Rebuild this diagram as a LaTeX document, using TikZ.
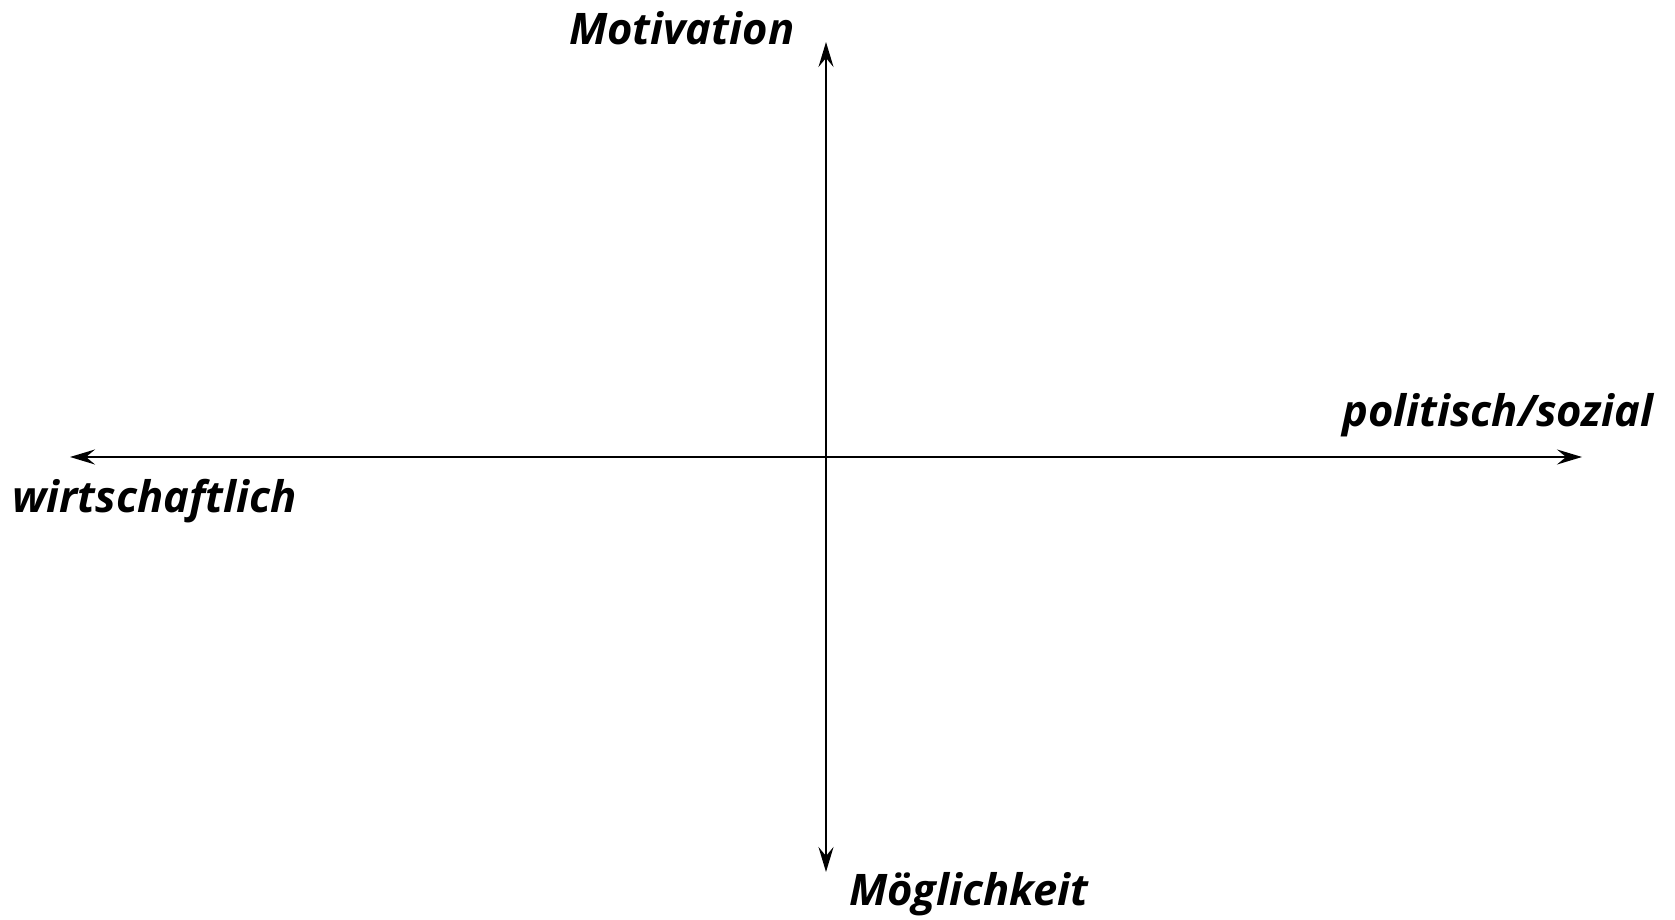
\documentclass[tikz,border=0pt]{standalone}
\usepackage{fontspec}
\setmainfont{Open Sans}
\usetikzlibrary{arrows.meta}
\begin{document}
\begin{tikzpicture}[x=1pt,y=1pt,
  axis/.style={line width=2.2pt,{Stealth[length=25pt,width=15pt,inset=9pt]}-{Stealth[length=25pt,width=15pt,inset=9pt]}},
  lbl/.style={inner sep=0pt,anchor=base west,font=\fontsize{43.5}{52}\selectfont\bfseries\itshape}]
\useasboundingbox (0,0) rectangle (1675,919);
\coordinate (top) at (826,877);
\coordinate (bot) at (826,47);
\coordinate (lft) at (70,462);
\coordinate (rgt) at (1582,462);
\draw[axis] (bot) -- (top);
\draw[axis] (lft) -- (rgt);
\node[lbl] (mot) at (569,874) {Motivation};
\node[lbl] (wir) at (12,406) {wirtschaftlich};
\node[lbl] (pol) at (1342,492) {politisch/sozial};
\node[lbl] (moe) at (849,14) {Möglichkeit};
\end{tikzpicture}
\end{document}
